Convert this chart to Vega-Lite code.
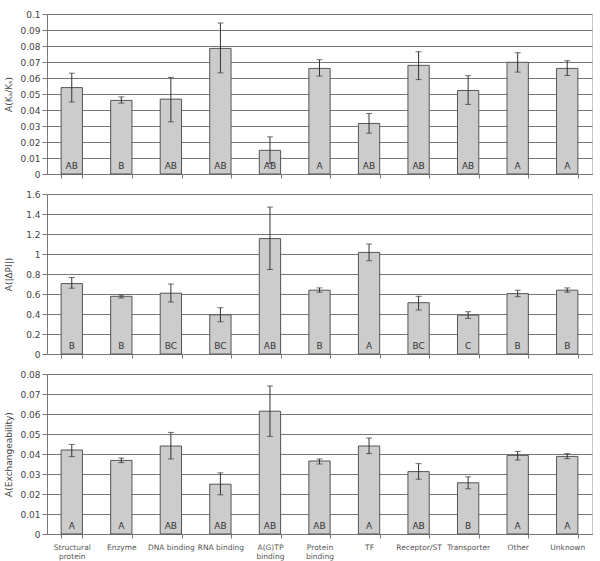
{
  "$schema": "https://vega.github.io/schema/vega-lite/v6.json",
  "padding": {"left": 3, "top": 9, "right": 8, "bottom": 0},
  "spacing": 9,
  "datasets": {
    "ka": [
      {"cat": "Structural protein", "v": 0.054, "lo": 0.045, "hi": 0.063, "lab": "AB"},
      {"cat": "Enzyme", "v": 0.046, "lo": 0.0443, "hi": 0.0482, "lab": "B"},
      {"cat": "DNA binding", "v": 0.0468, "lo": 0.0326, "hi": 0.0604, "lab": "AB"},
      {"cat": "RNA binding", "v": 0.0785, "lo": 0.0632, "hi": 0.0944, "lab": "AB"},
      {"cat": "A(G)TP binding", "v": 0.0148, "lo": 0.0065, "hi": 0.0232, "lab": "AB"},
      {"cat": "Protein binding", "v": 0.066, "lo": 0.0612, "hi": 0.0714, "lab": "A"},
      {"cat": "TF", "v": 0.0316, "lo": 0.0255, "hi": 0.0378, "lab": "AB"},
      {"cat": "Receptor/ST", "v": 0.0679, "lo": 0.059, "hi": 0.0764, "lab": "AB"},
      {"cat": "Transporter", "v": 0.0522, "lo": 0.0435, "hi": 0.0614, "lab": "AB"},
      {"cat": "Other", "v": 0.0698, "lo": 0.0637, "hi": 0.0758, "lab": "A"},
      {"cat": "Unknown", "v": 0.066, "lo": 0.0616, "hi": 0.0708, "lab": "A"}
    ],
    "pi": [
      {"cat": "Structural protein", "v": 0.704, "lo": 0.658, "hi": 0.765, "lab": "B"},
      {"cat": "Enzyme", "v": 0.577, "lo": 0.56, "hi": 0.59, "lab": "B"},
      {"cat": "DNA binding", "v": 0.608, "lo": 0.52, "hi": 0.70, "lab": "BC"},
      {"cat": "RNA binding", "v": 0.392, "lo": 0.322, "hi": 0.463, "lab": "BC"},
      {"cat": "A(G)TP binding", "v": 1.154, "lo": 0.845, "hi": 1.469, "lab": "AB"},
      {"cat": "Protein binding", "v": 0.638, "lo": 0.618, "hi": 0.661, "lab": "B"},
      {"cat": "TF", "v": 1.016, "lo": 0.933, "hi": 1.10, "lab": "A"},
      {"cat": "Receptor/ST", "v": 0.513, "lo": 0.44, "hi": 0.577, "lab": "BC"},
      {"cat": "Transporter", "v": 0.389, "lo": 0.356, "hi": 0.423, "lab": "C"},
      {"cat": "Other", "v": 0.604, "lo": 0.573, "hi": 0.638, "lab": "B"},
      {"cat": "Unknown", "v": 0.638, "lo": 0.618, "hi": 0.661, "lab": "B"}
    ],
    "ex": [
      {"cat": "Structural protein", "v": 0.042, "lo": 0.0387, "hi": 0.0448, "lab": "A"},
      {"cat": "Enzyme", "v": 0.0368, "lo": 0.0357, "hi": 0.038, "lab": "A"},
      {"cat": "DNA binding", "v": 0.044, "lo": 0.0375, "hi": 0.0508, "lab": "AB"},
      {"cat": "RNA binding", "v": 0.0249, "lo": 0.0196, "hi": 0.0306, "lab": "AB"},
      {"cat": "A(G)TP binding", "v": 0.0614, "lo": 0.0488, "hi": 0.074, "lab": "AB"},
      {"cat": "Protein binding", "v": 0.0365, "lo": 0.035, "hi": 0.0375, "lab": "AB"},
      {"cat": "TF", "v": 0.044, "lo": 0.0402, "hi": 0.048, "lab": "A"},
      {"cat": "Receptor/ST", "v": 0.0312, "lo": 0.0274, "hi": 0.0352, "lab": "AB"},
      {"cat": "Transporter", "v": 0.0256, "lo": 0.0226, "hi": 0.0286, "lab": "B"},
      {"cat": "Other", "v": 0.0393, "lo": 0.037, "hi": 0.0413, "lab": "A"},
      {"cat": "Unknown", "v": 0.0388, "lo": 0.0377, "hi": 0.0402, "lab": "A"}
    ]
  },
  "config": {
    "font": "DejaVu Sans",
    "view": {"stroke": "#c8c8c8", "strokeWidth": 1},
    "axis": {
      "labelFont": "DejaVu Sans",
      "labelFontSize": 9,
      "labelColor": "#444",
      "titleFont": "DejaVu Sans",
      "titleFontSize": 9,
      "titleFontWeight": "normal",
      "titleColor": "#444",
      "domainColor": "#777",
      "tickColor": "#777",
      "gridColor": "#777",
      "gridOpacity": 1
    },
    "axisX": {"tickBand": "extent", "grid": false, "labelAngle": 0, "tickSize": 4, "title": null, "labelFontSize": 7.5, "labelColor": "#555", "labelPadding": 5},
    "axisY": {"tickSize": 5, "labelPadding": 2, "titleX": -39, "titleAnchor": "middle", "titleBaseline": "middle"},
    "bar": {"fill": "#cccccc", "stroke": "#555555", "strokeWidth": 1},
    "rule": {"color": "#333"},
    "tick": {"color": "#333", "thickness": 1, "size": 6},
    "text": {"color": "#333", "fontSize": 9, "baseline": "bottom", "dy": -3}
  },
  "vconcat": [
    {
      "width": 545, "height": 160,
      "data": {"name": "ka"},
      "encoding": {
        "x": {"field": "cat", "type": "nominal", "sort": null, "scale": {"paddingInner": 0.57, "paddingOuter": 0.285}, "axis": {"labels": false}}
      },
      "layer": [
        {"mark": "bar", "encoding": {"y": {"field": "v", "type": "quantitative", "scale": {"domain": [0, 0.1]}, "axis": {"title": "A(Kₐ/Kₛ)", "values": [0, 0.01, 0.02, 0.03, 0.04, 0.05, 0.06, 0.07, 0.08, 0.09, 0.1], "format": "~g"}}}},
        {"mark": "rule", "encoding": {"y": {"field": "lo", "type": "quantitative", "axis": {"title": "A(Kₐ/Kₛ)", "values": [0, 0.01, 0.02, 0.03, 0.04, 0.05, 0.06, 0.07, 0.08, 0.09, 0.1], "format": "~g"}}, "y2": {"field": "hi"}}},
        {"mark": "tick", "encoding": {"y": {"field": "lo", "type": "quantitative", "axis": {"title": "A(Kₐ/Kₛ)", "values": [0, 0.01, 0.02, 0.03, 0.04, 0.05, 0.06, 0.07, 0.08, 0.09, 0.1], "format": "~g"}}}},
        {"mark": "tick", "encoding": {"y": {"field": "hi", "type": "quantitative", "axis": {"title": "A(Kₐ/Kₛ)", "values": [0, 0.01, 0.02, 0.03, 0.04, 0.05, 0.06, 0.07, 0.08, 0.09, 0.1], "format": "~g"}}}},
        {"mark": "text", "encoding": {"y": {"datum": 0, "type": "quantitative", "axis": {"title": "A(Kₐ/Kₛ)", "values": [0, 0.01, 0.02, 0.03, 0.04, 0.05, 0.06, 0.07, 0.08, 0.09, 0.1], "format": "~g"}}, "text": {"field": "lab"}}}
      ]
    },
    {
      "width": 545, "height": 160,
      "data": {"name": "pi"},
      "encoding": {
        "x": {"field": "cat", "type": "nominal", "sort": null, "scale": {"paddingInner": 0.57, "paddingOuter": 0.285}, "axis": {"labels": false}}
      },
      "layer": [
        {"mark": "bar", "encoding": {"y": {"field": "v", "type": "quantitative", "scale": {"domain": [0, 1.6]}, "axis": {"title": "A(|ΔPI|)", "values": [0, 0.2, 0.4, 0.6, 0.8, 1, 1.2, 1.4, 1.6], "format": "~g"}}}},
        {"mark": "rule", "encoding": {"y": {"field": "lo", "type": "quantitative", "axis": {"title": "A(|ΔPI|)", "values": [0, 0.2, 0.4, 0.6, 0.8, 1, 1.2, 1.4, 1.6], "format": "~g"}}, "y2": {"field": "hi"}}},
        {"mark": "tick", "encoding": {"y": {"field": "lo", "type": "quantitative", "axis": {"title": "A(|ΔPI|)", "values": [0, 0.2, 0.4, 0.6, 0.8, 1, 1.2, 1.4, 1.6], "format": "~g"}}}},
        {"mark": "tick", "encoding": {"y": {"field": "hi", "type": "quantitative", "axis": {"title": "A(|ΔPI|)", "values": [0, 0.2, 0.4, 0.6, 0.8, 1, 1.2, 1.4, 1.6], "format": "~g"}}}},
        {"mark": "text", "encoding": {"y": {"datum": 0, "type": "quantitative", "axis": {"title": "A(|ΔPI|)", "values": [0, 0.2, 0.4, 0.6, 0.8, 1, 1.2, 1.4, 1.6], "format": "~g"}}, "text": {"field": "lab"}}}
      ]
    },
    {
      "width": 545, "height": 160,
      "data": {"name": "ex"},
      "encoding": {
        "x": {"field": "cat", "type": "nominal", "sort": null, "scale": {"paddingInner": 0.57, "paddingOuter": 0.285},
          "axis": {"labelExpr": "datum.label == 'Structural protein' ? ['Structural', 'protein'] : datum.label == 'A(G)TP binding' ? ['A(G)TP', 'binding'] : datum.label == 'Protein binding' ? ['Protein', 'binding'] : datum.label"}}
      },
      "layer": [
        {"mark": "bar", "encoding": {"y": {"field": "v", "type": "quantitative", "scale": {"domain": [0, 0.08]}, "axis": {"title": "A(Exchangeability)", "values": [0, 0.01, 0.02, 0.03, 0.04, 0.05, 0.06, 0.07, 0.08], "format": "~g"}}}},
        {"mark": "rule", "encoding": {"y": {"field": "lo", "type": "quantitative", "axis": {"title": "A(Exchangeability)", "values": [0, 0.01, 0.02, 0.03, 0.04, 0.05, 0.06, 0.07, 0.08], "format": "~g"}}, "y2": {"field": "hi"}}},
        {"mark": "tick", "encoding": {"y": {"field": "lo", "type": "quantitative", "axis": {"title": "A(Exchangeability)", "values": [0, 0.01, 0.02, 0.03, 0.04, 0.05, 0.06, 0.07, 0.08], "format": "~g"}}}},
        {"mark": "tick", "encoding": {"y": {"field": "hi", "type": "quantitative", "axis": {"title": "A(Exchangeability)", "values": [0, 0.01, 0.02, 0.03, 0.04, 0.05, 0.06, 0.07, 0.08], "format": "~g"}}}},
        {"mark": "text", "encoding": {"y": {"datum": 0, "type": "quantitative", "axis": {"title": "A(Exchangeability)", "values": [0, 0.01, 0.02, 0.03, 0.04, 0.05, 0.06, 0.07, 0.08], "format": "~g"}}, "text": {"field": "lab"}}}
      ]
    }
  ]
}
